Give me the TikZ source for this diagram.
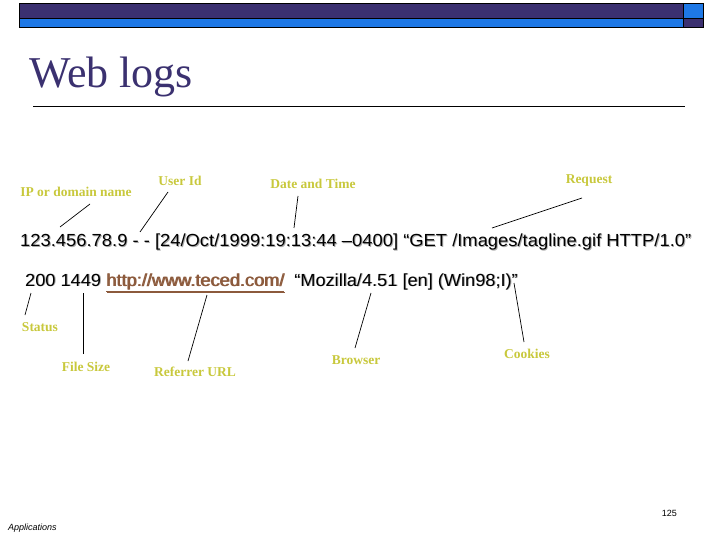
\documentclass[tikz,border=0pt]{standalone}
\usepackage{fontspec}
\usepackage{graphicx}
\setmainfont{Liberation Serif}
\newfontfamily\arialfont{Liberation Sans}
\usetikzlibrary{positioning}
\definecolor{balkendunkel}{RGB}{59,48,112}
\definecolor{balkenhell}{RGB}{30,120,230}
\definecolor{titelblau}{RGB}{59,49,112}
\definecolor{labelgelb}{RGB}{200,200,60}
\definecolor{linkbraun}{RGB}{140,90,60}
\definecolor{schattengrau}{RGB}{170,170,170}
% Text mit leichtem grauen Schatten
\newcommand{\mitschatten}[1]{\rlap{\raisebox{-0.9pt}{\hspace{0.9pt}\color{schattengrau}#1}}#1}

\begin{document}
\begin{tikzpicture}[x=1pt, y=-1pt]

\useasboundingbox (0,0) rectangle (720,540);

% 1. Balken oben
\fill[balkendunkel] (19,3) rectangle (683,18);
\fill[balkenhell] (19,18) rectangle (683,27);
\fill[balkenhell] (683,3) rectangle (703,18);
\fill[balkendunkel] (683,18) rectangle (703,27);
\draw[black, thick] (19,3) rectangle (703,27);
\draw[black, thick] (19,18) -- (703,18);
\draw[black, thick] (683,3) -- (683,27);

% 2. Titel mit Linie darunter
\node[anchor=base west, inner sep=0pt, text=titelblau, font=\fontsize{44}{44}\selectfont] (titel) at (29,88) {Web logs};
\draw[black] (33,106) -- (685,106);

% 3. Die beiden Zeilen aus dem Log
\tikzset{logtext/.style={anchor=base west, inner sep=0pt, font=\arialfont\fontsize{17.5}{20}\selectfont}}
\node[logtext] (zeileA) at (20,247) {\scalebox{1.05}[1]{\mitschatten{123.456.78.9 - - [24/Oct/1999:19:13:44 –0400] “GET /Images/tagline.gif HTTP/1.0”}}};
\node[logtext] (zeileB) at (25,286) {\scalebox{1.04}[1]{\mitschatten{200 1449 \textcolor{linkbraun}{\underline{http://www.teced.com/}}\ \ “Mozilla/4.51 [en] (Win98;I)”}}};

% 4. Beschriftungen mit eigenem Stil
\tikzset{feldname/.style={inner sep=0pt, text=labelgelb, font=\bfseries\fontsize{13.5}{15}\selectfont}}
\node[feldname] (ip) at (76,192) {IP or domain name};
\node[feldname] (user) at (180,181) {User Id};
\node[feldname] (datum) at (313,184) {Date and Time};
\node[feldname] (anfrage) at (589,181) {Request};
\node[feldname] (status) at (40,327) {Status};
\node[feldname] (groesse) at (86,367) {File Size};
\node[feldname] (referrer) at (195,372) {Referrer URL};
\node[feldname] (browser) at (356,360) {Browser};
\node[feldname] (cookies) at (527,354) {Cookies};

% 5. Verbindungslinien
\tikzset{zeiger/.style={draw=black, line width=0.7pt}}
\coordinate (ip-a) at (90,204);     \coordinate (ip-b) at (60,227);
\coordinate (user-a) at (168,192);  \coordinate (user-b) at (140,232);
\coordinate (datum-a) at (298,196); \coordinate (datum-b) at (294,228);
\coordinate (anfrage-a) at (582,198); \coordinate (anfrage-b) at (492,228);
\coordinate (status-a) at (25,315); \coordinate (status-b) at (31,293);
\coordinate (groesse-a) at (83,354); \coordinate (groesse-b) at (83,293);
\coordinate (referrer-a) at (188,361); \coordinate (referrer-b) at (207,295);
\coordinate (browser-a) at (355,348); \coordinate (browser-b) at (371,293);
\coordinate (cookies-a) at (524,342); \coordinate (cookies-b) at (514,283);
\foreach \feld in {ip, user, datum, anfrage, status, groesse, referrer, browser, cookies}
  \draw[zeiger] (\feld-a) -- (\feld-b);

% 6. Fusszeile
\node[anchor=base west, inner sep=0pt, font=\arialfont\itshape\fontsize{9}{10}\selectfont] (fuss) at (8,530) {Applications};
\node[anchor=base east, inner sep=0pt, font=\arialfont\fontsize{9}{10}\selectfont] (seite) at (677,516) {125};

\end{tikzpicture}
\end{document}
